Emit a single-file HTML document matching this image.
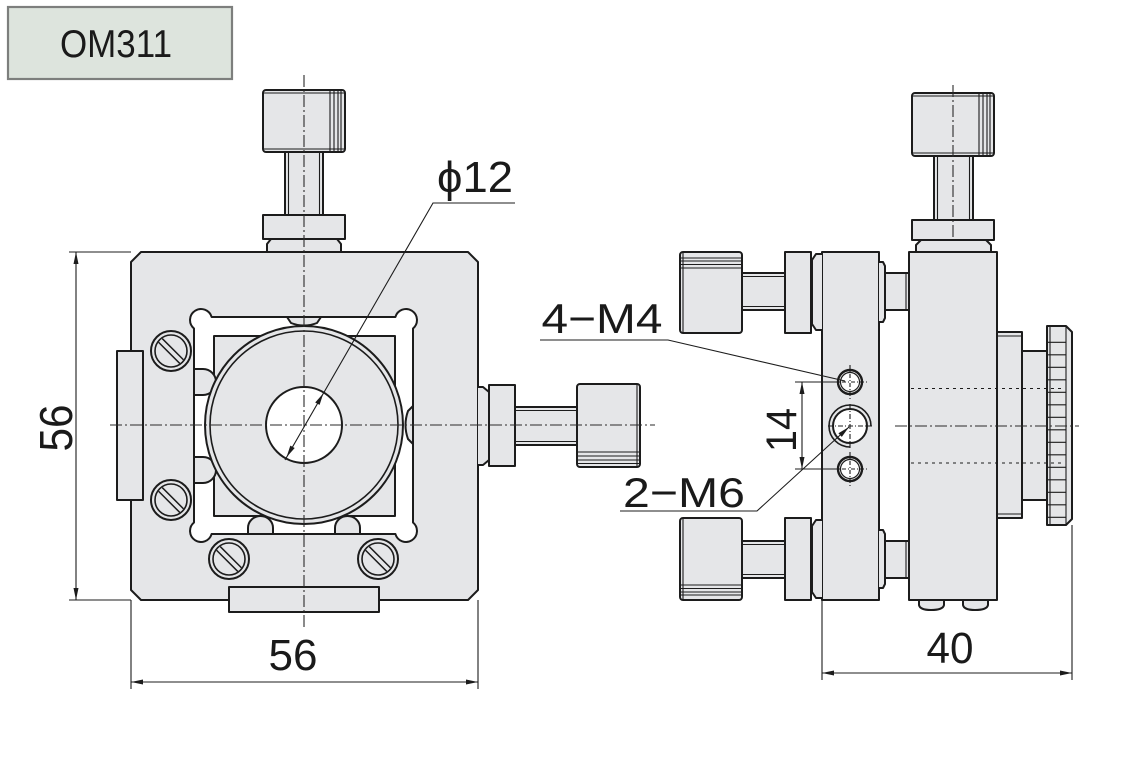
<!DOCTYPE html>
<html><head><meta charset="utf-8"><style>
html,body{margin:0;padding:0;background:#fff;width:1139px;height:759px;overflow:hidden}
svg{display:block}
text{font-family:"Liberation Sans","DejaVu Sans",sans-serif;fill:#1a1a1a}
</style></head><body>
<svg width="1139" height="759" viewBox="0 0 1139 759" xmlns="http://www.w3.org/2000/svg">
<rect x="0" y="0" width="1139" height="759" fill="#fff"/>

<!-- Title -->
<rect x="8" y="7" width="224" height="72" fill="#dde4dd" stroke="#7d7f7d" stroke-width="2.2"/>
<text x="116" y="57" font-size="39" text-anchor="middle" textLength="112" lengthAdjust="spacingAndGlyphs">OM311</text>

<g stroke="#1c1c1c" stroke-width="2" fill="#e5e6e8" stroke-linejoin="round">
<!-- ===== LEFT VIEW ===== -->
<!-- top knob -->
<path d="M267,252 L267,244 L271,239 L337,239 L341,244 L341,252"/>
<rect x="263" y="215" width="82" height="24"/>
<rect x="285" y="152" width="38" height="63"/>
<rect x="263" y="90" width="82" height="62" rx="3"/>
<!-- main plate -->
<path d="M141,252 L468,252 L478,262 L478,590 L468,600 L141,600 L131,590 L131,262 Z"/>
<!-- right knob -->
<path d="M478,387 L483,387 L489,392 L489,460 L483,465 L478,465"/>
<rect x="489" y="385" width="26" height="81"/>
<rect x="515" y="407" width="62" height="38"/>
<rect x="577" y="384" width="63" height="83" rx="3"/>
<!-- side plate & bottom plate -->
<rect x="117" y="351" width="26" height="149"/>
<rect x="229" y="587" width="150" height="25"/>
<!-- white frame band -->
<path fill="#fff" d="M211.6,317 L395.4,317 A11,11 0 1 1 413,328.5 L413,522.5 A11,11 0 1 1 395.4,534 L211.6,534 A11,11 0 1 1 194,522.5 L194,328.5 A11,11 0 1 1 211.6,317 Z"/>
<rect x="214" y="336" width="181" height="180"/>
<!-- bumps -->
<path d="M195,369 L203,369 A13,13 0 0 1 203,395 L195,395"/>
<path d="M195,457 L203,457 A13,13 0 0 1 203,483 L195,483"/>
<path d="M248,533 L248,528 A12.5,12 0 0 1 273,528 L273,533"/>
<path d="M335,533 L335,528 A12.5,12 0 0 1 360,528 L360,533"/>
<!-- nubs -->
<path d="M287,317 L321,317 L317,323 Q304,328 291,323 Z"/>
<path d="M413,406 L413,444 L408,439 Q403,425 408,411 Z"/>
<!-- ring -->
<circle cx="304" cy="425" r="99"/>
<circle cx="304" cy="425" r="94" fill="none" stroke-width="1.6"/>
<circle cx="304" cy="425" r="38" fill="#fff"/>
<!-- screws -->
<g transform="translate(171,351)"><circle r="20"/><circle r="16" fill="none" stroke-width="1.6"/><g transform="rotate(45)" stroke-width="1.5"><line x1="-15" y1="-2.6" x2="15" y2="-2.6"/><line x1="-15" y1="2.6" x2="15" y2="2.6"/></g></g>
<g transform="translate(171,500)"><circle r="20"/><circle r="16" fill="none" stroke-width="1.6"/><g transform="rotate(45)" stroke-width="1.5"><line x1="-15" y1="-2.6" x2="15" y2="-2.6"/><line x1="-15" y1="2.6" x2="15" y2="2.6"/></g></g>
<g transform="translate(229,559)"><circle r="20"/><circle r="16" fill="none" stroke-width="1.6"/><g transform="rotate(45)" stroke-width="1.5"><line x1="-15" y1="-2.6" x2="15" y2="-2.6"/><line x1="-15" y1="2.6" x2="15" y2="2.6"/></g></g>
<g transform="translate(378,559)"><circle r="20"/><circle r="16" fill="none" stroke-width="1.6"/><g transform="rotate(45)" stroke-width="1.5"><line x1="-15" y1="-2.6" x2="15" y2="-2.6"/><line x1="-15" y1="2.6" x2="15" y2="2.6"/></g></g>

<!-- ===== RIGHT VIEW ===== -->
<!-- top knob -->
<path d="M916,252 L916,245 L921,240 L986,240 L991,245 L991,252"/>
<rect x="912" y="220" width="82" height="20"/>
<rect x="934" y="156" width="39" height="64"/>
<rect x="912" y="93" width="82" height="63" rx="3"/>
<!-- body -->
<path d="M919,600 L919,605 Q920,610 931,610 Q943,610 944,605 L944,600"/>
<path d="M963,600 L963,605 Q964,610 975,610 Q987,610 988,605 L988,600"/>
<rect x="909" y="252" width="88" height="348"/>
<!-- right attachments -->
<rect x="997" y="332" width="25" height="186"/>
<rect x="1022" y="351" width="25" height="149"/>
<path d="M1047,326 L1066,326 L1072,332 L1072,519 L1066,525 L1047,525 Z"/>
<!-- middle plate -->
<rect x="822" y="252" width="57" height="348"/>
<!-- upper knob set -->
<path d="M822,254 L816,254 L812,260 L812,324 L816,330 L822,330"/>
<rect x="785" y="252" width="26" height="81"/>
<rect x="742" y="273" width="43" height="37"/>
<rect x="680" y="252" width="62" height="81" rx="3"/>
<path d="M879,262 L883,262 L885,266 L885,318 L883,322 L879,322"/>
<rect x="885" y="273" width="24" height="37"/>
<!-- lower knob set -->
<path d="M822,520 L816,520 L812,526 L812,592 L816,598 L822,598"/>
<rect x="785" y="518" width="26" height="82"/>
<rect x="742" y="541" width="43" height="37"/>
<rect x="680" y="518" width="62" height="82" rx="3"/>
<path d="M879,530 L883,530 L885,534 L885,584 L883,588 L879,588"/>
<rect x="885" y="541" width="24" height="37"/>
<!-- holes -->
<circle cx="850" cy="382" r="12" fill="#fff" stroke-width="2.4"/>
<circle cx="850" cy="382" r="9.5" fill="none" stroke-width="1.2"/>
<circle cx="850" cy="426" r="17" fill="#fff"/>
<path d="M850,447 A21,21 0 1 1 871,426" fill="none" stroke-width="1.6"/>
<circle cx="850" cy="469" r="12" fill="#fff" stroke-width="2.4"/>
<circle cx="850" cy="469" r="9.5" fill="none" stroke-width="1.2"/>
</g>

<!-- thin details -->
<g stroke="#1c1c1c" stroke-width="1.1" fill="none">
<!-- left top knob details -->
<line x1="264" y1="93" x2="344" y2="93"/><line x1="264" y1="149" x2="344" y2="149"/>
<line x1="330" y1="91" x2="330" y2="151"/><line x1="334" y1="91" x2="334" y2="151"/><line x1="338" y1="91" x2="338" y2="151"/><line x1="341" y1="91" x2="341" y2="151"/>
<line x1="288.5" y1="152" x2="288.5" y2="215"/><line x1="319.5" y1="152" x2="319.5" y2="215"/>
<!-- left right knob details -->
<line x1="515" y1="410.5" x2="577" y2="410.5"/><line x1="515" y1="441.5" x2="577" y2="441.5"/>
<line x1="578" y1="452" x2="639" y2="452"/><line x1="578" y1="456" x2="639" y2="456"/><line x1="578" y1="460" x2="639" y2="460"/><line x1="578" y1="463.5" x2="639" y2="463.5"/>
<line x1="637" y1="385" x2="637" y2="466"/>
<!-- right top knob details -->
<line x1="913" y1="96" x2="993" y2="96"/><line x1="913" y1="153" x2="993" y2="153"/>
<line x1="979" y1="94" x2="979" y2="155"/><line x1="983" y1="94" x2="983" y2="155"/><line x1="987" y1="94" x2="987" y2="155"/><line x1="990" y1="94" x2="990" y2="155"/>
<line x1="937.5" y1="156" x2="937.5" y2="220"/><line x1="969.5" y1="156" x2="969.5" y2="220"/>
<!-- right view knob caps -->
<line x1="681" y1="258" x2="741" y2="258"/><line x1="681" y1="261" x2="741" y2="261"/><line x1="681" y1="264.5" x2="741" y2="264.5"/><line x1="681" y1="268" x2="741" y2="268"/>
<line x1="683" y1="253" x2="683" y2="332"/>
<line x1="742" y1="276.5" x2="785" y2="276.5"/><line x1="742" y1="306.5" x2="785" y2="306.5"/>
<line x1="681" y1="585" x2="741" y2="585"/><line x1="681" y1="588.5" x2="741" y2="588.5"/><line x1="681" y1="592" x2="741" y2="592"/><line x1="681" y1="595" x2="741" y2="595"/>
<line x1="683" y1="519" x2="683" y2="599"/>
<line x1="742" y1="544.5" x2="785" y2="544.5"/><line x1="742" y1="574.5" x2="785" y2="574.5"/>
<line x1="906" y1="273" x2="906" y2="310"/><line x1="906" y1="541" x2="906" y2="578"/>
<!-- flange lines -->
<line x1="997" y1="336" x2="1022" y2="336"/><line x1="997" y1="514" x2="1022" y2="514"/>
<line x1="1066" y1="326" x2="1066" y2="525"/><line x1="1050" y1="327" x2="1050" y2="524"/>
<line x1="1047" y1="342.3" x2="1066" y2="342.3"/><line x1="1047" y1="354.8" x2="1066" y2="354.8"/><line x1="1047" y1="367.3" x2="1066" y2="367.3"/><line x1="1047" y1="379.8" x2="1066" y2="379.8"/><line x1="1047" y1="392.3" x2="1066" y2="392.3"/><line x1="1047" y1="404.8" x2="1066" y2="404.8"/><line x1="1047" y1="417.3" x2="1066" y2="417.3"/><line x1="1047" y1="429.8" x2="1066" y2="429.8"/><line x1="1047" y1="442.3" x2="1066" y2="442.3"/><line x1="1047" y1="454.8" x2="1066" y2="454.8"/><line x1="1047" y1="467.3" x2="1066" y2="467.3"/><line x1="1047" y1="479.8" x2="1066" y2="479.8"/><line x1="1047" y1="492.3" x2="1066" y2="492.3"/><line x1="1047" y1="504.8" x2="1066" y2="504.8"/><line x1="1047" y1="517.3" x2="1066" y2="517.3"/>
<!-- hidden lines -->
<line x1="911" y1="388.5" x2="1064" y2="388.5" stroke-dasharray="3 4"/>
<line x1="911" y1="463" x2="1064" y2="463" stroke-dasharray="3 4"/>
<!-- hole crosshairs -->
<line x1="850" y1="365" x2="850" y2="399" stroke-dasharray="4 2 1 2"/><line x1="833" y1="382" x2="867" y2="382" stroke-dasharray="4 2 1 2"/>
<line x1="850" y1="404" x2="850" y2="448" stroke-dasharray="5 2 1 2"/><line x1="828" y1="426" x2="872" y2="426" stroke-dasharray="5 2 1 2"/>
<line x1="850" y1="452" x2="850" y2="486" stroke-dasharray="4 2 1 2"/><line x1="833" y1="469" x2="867" y2="469" stroke-dasharray="4 2 1 2"/>
</g>

<!-- centerlines -->
<g stroke="#2a2a2a" stroke-width="1.1" fill="none" stroke-dasharray="12 3 2 3">
<line x1="304" y1="75" x2="304" y2="628"/>
<line x1="110" y1="425" x2="655" y2="425"/>
<line x1="953" y1="85" x2="953" y2="240"/>
<line x1="895" y1="426" x2="1079" y2="426"/>
</g>

<!-- dimensions -->
<g stroke="#1c1c1c" stroke-width="1.1" fill="none">
<line x1="69" y1="252" x2="131" y2="252"/>
<line x1="69" y1="600" x2="131" y2="600"/>
<line x1="76" y1="252" x2="76" y2="600"/>
<line x1="131" y1="600" x2="131" y2="689"/>
<line x1="478" y1="600" x2="478" y2="689"/>
<line x1="131" y1="682" x2="478" y2="682"/>
<line x1="822" y1="600" x2="822" y2="680"/>
<line x1="1072" y1="525" x2="1072" y2="680"/>
<line x1="822" y1="673" x2="1072" y2="673"/>
<line x1="795" y1="382" x2="838" y2="382"/>
<line x1="795" y1="469" x2="838" y2="469"/>
<line x1="802" y1="382" x2="802" y2="469"/>
<!-- leaders -->
<polyline points="515,203 433,203 285,460"/>
<polyline points="540,340 668,340 845,381"/>
<polyline points="620,511 757,511 849,427"/>
</g>
<g fill="#1c1c1c" stroke="none">
<polygon points="76,252 73.5,264 78.5,264"/>
<polygon points="76,600 73.5,588 78.5,588"/>
<polygon points="131,682 143,679.5 143,684.5"/>
<polygon points="478,682 466,679.5 466,684.5"/>
<polygon points="822,673 834,670.5 834,675.5"/>
<polygon points="1072,673 1060,670.5 1060,675.5"/>
<polygon points="802,382 799.5,394 804.5,394"/>
<polygon points="802,469 799.5,457 804.5,457"/>
<polygon points="323.4,393.3 319.6,404.9 315.2,402.5"/>
<polygon points="286.5,457.2 294.7,448 290.3,445.6"/>
<polygon points="849,427 841.8,436.9 838.4,433.3"/>
</g>

<!-- labels -->
<text x="475" y="192" font-size="44" text-anchor="middle" textLength="76" lengthAdjust="spacingAndGlyphs">ϕ12</text>
<text transform="translate(72,428) rotate(-90)" x="0" y="0" font-size="46" text-anchor="middle" textLength="47" lengthAdjust="spacingAndGlyphs">56</text>
<text x="293" y="670" font-size="44" text-anchor="middle" textLength="49" lengthAdjust="spacingAndGlyphs">56</text>
<text x="950" y="663" font-size="44" text-anchor="middle" textLength="47" lengthAdjust="spacingAndGlyphs">40</text>
<text x="602" y="333" font-size="42" text-anchor="middle" textLength="121" lengthAdjust="spacingAndGlyphs">4−M4</text>
<text x="684" y="507" font-size="42" text-anchor="middle" textLength="122" lengthAdjust="spacingAndGlyphs">2−M6</text>
<text transform="translate(796,430) rotate(-90)" x="0" y="0" font-size="43" text-anchor="middle" textLength="44" lengthAdjust="spacingAndGlyphs">14</text>
</svg>
</body></html>
